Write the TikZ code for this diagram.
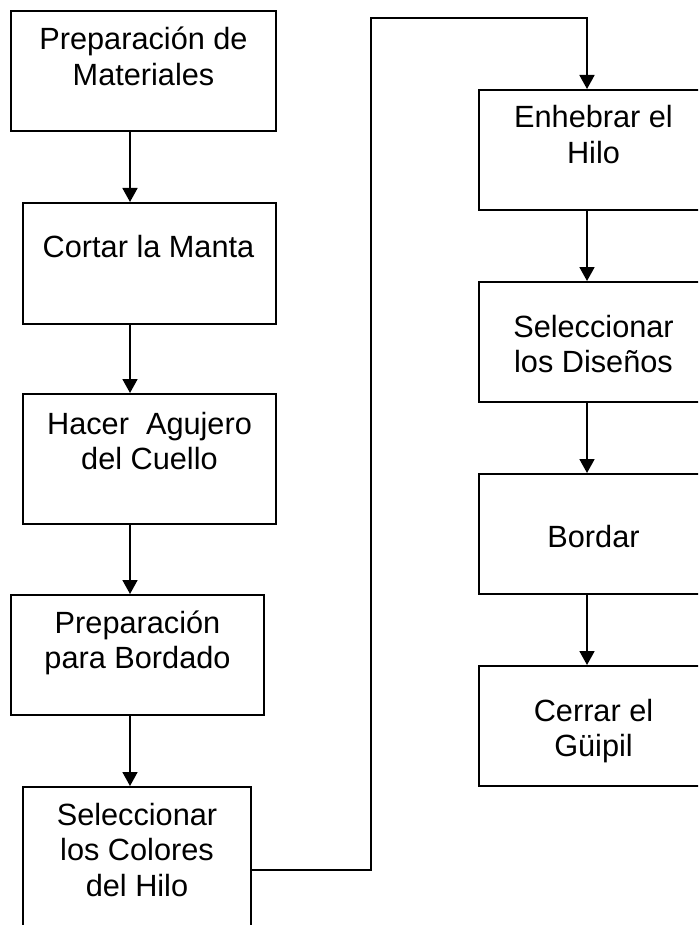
\documentclass[tikz,border=0pt]{standalone}
\usepackage{fontspec}
\setmainfont{Liberation Sans}
\usetikzlibrary{arrows.meta,calc}
\begin{document}
\begin{tikzpicture}[x=1pt,y=-1pt,
  box/.style={draw=black,line width=2pt,fill=white,rectangle,inner sep=0pt,anchor=north west},
  txt/.style={anchor=base,inner sep=0pt,font=\fontsize{30.7}{35.5}\selectfont},
  arr/.style={line width=1.8pt,-{Triangle[width=15pt,length=14pt]}},
  con/.style={line width=1.8pt}]
\useasboundingbox (0,0) rectangle (698,925);
\clip (0,0) rectangle (698,925);
% boxes
\node[box,minimum width=265pt,minimum height=120pt] (b1) at (10,10) {};
\node[box,minimum width=253pt,minimum height=121pt] (b2) at (22,202) {};
\node[box,minimum width=253pt,minimum height=130pt] (b3) at (22,393) {};
\node[box,minimum width=253pt,minimum height=120pt] (b4) at (10,594) {};
\node[box,minimum width=228pt,minimum height=160pt] (b5) at (22,786) {};
\node[box,minimum width=229pt,minimum height=120pt] (b6) at (478,89) {};
\node[box,minimum width=229pt,minimum height=120pt] (b7) at (478,281) {};
\node[box,minimum width=229pt,minimum height=120pt] (b8) at (478,473) {};
\node[box,minimum width=229pt,minimum height=120pt] (b9) at (478,665) {};
% texts
\node[txt] (t1) at ($(b1.north)+(0,40)$) {\begin{tabular}[t]{@{}c@{}}Preparación de\\Materiales\end{tabular}};
\node[txt] (t2) at ($(b2.north)+(-1,55)$) {Cortar la Manta};
\node[txt] (t3) at ($(b3.north)+(0,41)$) {\begin{tabular}[t]{@{}c@{}}Hacer\ \ Agujero\\del Cuello\end{tabular}};
\node[txt] (t4) at ($(b4.north)+(0,39)$) {\begin{tabular}[t]{@{}c@{}}Preparación\\para Bordado\end{tabular}};
\node[txt] (t5) at ($(b5.north)+(0,39)$) {\begin{tabular}[t]{@{}c@{}}Seleccionar\\los Colores\\del Hilo\end{tabular}};
\node[txt] (t6) at ($(b6.north)+(0,39)$) {\begin{tabular}[t]{@{}c@{}}Enhebrar el\\Hilo\end{tabular}};
\node[txt] (t7) at ($(b7.north)+(0,56)$) {\begin{tabular}[t]{@{}c@{}}Seleccionar\\los Diseños\end{tabular}};
\node[txt] (t8) at ($(b8.north)+(0,74)$) {Bordar};
\node[txt] (t9) at ($(b9.north)+(0,56)$) {\begin{tabular}[t]{@{}c@{}}Cerrar el\\Güipil\end{tabular}};
% connectors
\coordinate (colL) at (130,0);
\coordinate (colR) at (587,0);
\coordinate (jy) at (0,870);
\coordinate (top) at (371,18);
\draw[arr] (colL |- b1.south) -- (colL |- b2.north);
\draw[arr] (colL |- b2.south) -- (colL |- b3.north);
\draw[arr] (colL |- b3.south) -- (colL |- b4.north);
\draw[arr] (colL |- b4.south) -- (colL |- b5.north);
\draw[arr] (b5.east |- jy) -| (top) -| (colR |- b6.north);
\draw[arr] (colR |- b6.south) -- (colR |- b7.north);
\draw[arr] (colR |- b7.south) -- (colR |- b8.north);
\draw[arr] (colR |- b8.south) -- (colR |- b9.north);
\end{tikzpicture}
\end{document}
